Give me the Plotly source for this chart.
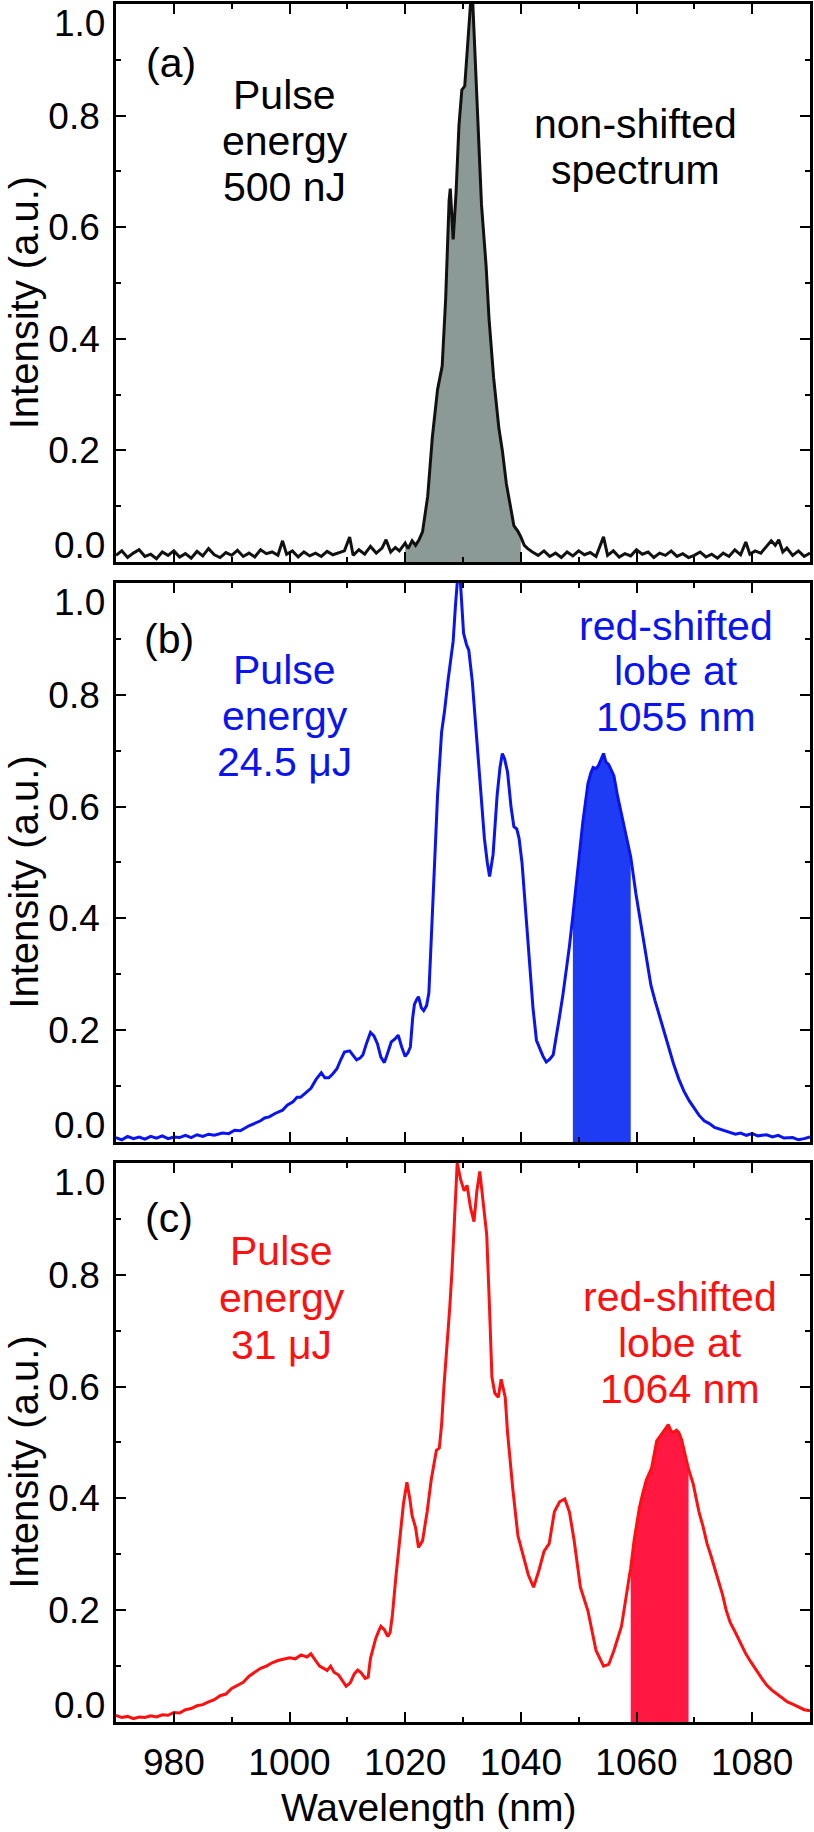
import plotly.graph_objects as go

# ---------------- data ----------------
# Panel (a): non-shifted spectrum, 500 nJ
wl_a = [970, 971, 972, 973, 974, 975, 976, 977, 978, 979, 980, 981, 982, 983, 984, 985, 986, 987, 988, 989,
        990, 991, 992, 993, 994, 995, 996, 997, 998, 998.8, 999.5, 1000.5, 1001.5, 1002.5, 1003.5, 1004.5,
        1005.5, 1006.5, 1007.5, 1008.5, 1009.5, 1010.4, 1011, 1012, 1013, 1014, 1015, 1016, 1016.7, 1017.5,
        1018.3, 1019, 1020.0, 1020.5, 1021.2, 1021.8, 1022.4, 1023.0, 1023.9, 1024.7, 1025.6, 1026.4, 1027.0,
        1027.6, 1027.8, 1028.3, 1028.8, 1029.3, 1029.8, 1030.3, 1030.7, 1031.3, 1031.7, 1032.2, 1032.8, 1033.2,
        1034.0, 1034.5, 1035.3, 1036.2, 1036.8, 1037.5, 1038.2, 1038.8, 1039.5, 1040.0, 1040.6, 1041.2, 1042,
        1043, 1044, 1045, 1046, 1047, 1048, 1049, 1050, 1051, 1052, 1053, 1054.3, 1055, 1056, 1057, 1058, 1059,
        1060, 1061, 1062, 1063, 1064, 1065, 1066, 1067, 1068, 1069, 1070, 1071, 1072, 1073, 1074, 1075, 1076,
        1077, 1078, 1078.9, 1079.6, 1080.5, 1081.5, 1082.5, 1083.3, 1084, 1084.6, 1085.3, 1086, 1087, 1088,
        1089, 1090]
int_a = [0.012, 0.020, 0.008, 0.016, 0.022, 0.010, 0.014, 0.006, 0.018, 0.012, 0.020, 0.009, 0.015, 0.007,
         0.019, 0.011, 0.024, 0.013, 0.008, 0.017, 0.012, 0.021, 0.010, 0.016, 0.009, 0.022, 0.015, 0.018,
         0.012, 0.038, 0.014, 0.020, 0.009, 0.018, 0.011, 0.016, 0.010, 0.019, 0.013, 0.017, 0.020, 0.045,
         0.012, 0.022, 0.014, 0.028, 0.016, 0.025, 0.040, 0.018, 0.026, 0.020, 0.034, 0.024, 0.038, 0.030,
         0.040, 0.054, 0.118, 0.224, 0.309, 0.351, 0.471, 0.648, 0.669, 0.578, 0.662, 0.782, 0.846, 0.853,
         0.917, 1.000, 1.000, 0.880, 0.755, 0.640, 0.530, 0.436, 0.330, 0.240, 0.200, 0.140, 0.100, 0.065,
         0.055, 0.045, 0.030, 0.024, 0.018, 0.012, 0.020, 0.010, 0.016, 0.008, 0.018, 0.011, 0.020, 0.013,
         0.017, 0.010, 0.045, 0.012, 0.020, 0.009, 0.015, 0.011, 0.022, 0.014, 0.018, 0.008, 0.016, 0.012,
         0.020, 0.010, 0.015, 0.008, 0.012, 0.018, 0.009, 0.014, 0.007, 0.016, 0.010, 0.022, 0.013, 0.036,
         0.014, 0.020, 0.016, 0.028, 0.038, 0.030, 0.040, 0.018, 0.025, 0.012, 0.020, 0.010, 0.016]

# Panel (b): 24.5 uJ, red-shifted lobe at 1055 nm
wl_b = [970, 971, 972, 973, 974, 975, 976, 977, 978, 979, 980, 981, 982, 983, 984, 985, 986, 987, 988.4,
        989.5, 990.5, 991.5, 993.0, 994, 995, 995.7, 996.5, 997.5, 998.8, 999.6, 1000.6, 1001.3, 1001.9,
        1002.8, 1003.7, 1004.6, 1005.5, 1006.1, 1006.8, 1007.5, 1008.2, 1008.9, 1009.5, 1010.4, 1011.0,
        1011.6, 1012.2, 1012.7, 1013.3, 1014.0, 1014.6, 1015.2, 1015.8, 1016.4, 1017.0, 1017.6, 1018.2,
        1018.8, 1019.4, 1020.0, 1020.5, 1020.9, 1021.3, 1021.6, 1022.0, 1022.3, 1022.8, 1023.2, 1023.7,
        1024.1, 1024.5, 1025.0, 1025.6, 1026.3, 1026.8, 1027.4, 1027.9, 1028.3, 1028.7, 1029.0, 1029.5,
        1030.1, 1030.6, 1031.0, 1031.6, 1032.2, 1032.8, 1033.3, 1033.7, 1034.2, 1034.6, 1035.2, 1035.9,
        1036.4, 1036.8, 1037.2, 1037.7, 1038.3, 1038.8, 1039.3, 1039.7, 1040.2, 1040.6, 1041.5, 1042.1,
        1042.7, 1043.3, 1043.8, 1044.4, 1045.0, 1045.6, 1046.2, 1046.7, 1047.3, 1047.8, 1048.4, 1049.0,
        1049.8, 1050.7, 1051.6, 1052.1, 1052.5, 1053.0, 1053.4, 1053.9, 1054.3, 1054.7, 1055.2, 1055.7,
        1056.1, 1056.7, 1057.4, 1058.1, 1058.8, 1059.0, 1059.9, 1060.8, 1061.9, 1062.5, 1063.2, 1064.0,
        1064.6, 1065.5, 1066.4, 1067.3, 1068.2, 1069.1, 1070.0, 1070.8, 1071.7, 1072.6, 1073.5, 1074.4,
        1075.3, 1076.2, 1077.1, 1078.0, 1079, 1080, 1081, 1082.5, 1083.5, 1084.5, 1085.5, 1087, 1088,
        1089, 1090]
int_b = [0.008, 0.004, 0.010, 0.006, 0.009, 0.005, 0.010, 0.007, 0.011, 0.006, 0.009, 0.008, 0.012, 0.008,
         0.013, 0.010, 0.014, 0.012, 0.016, 0.015, 0.021, 0.020, 0.029, 0.033, 0.038, 0.043, 0.045, 0.051,
         0.057, 0.066, 0.072, 0.080, 0.080, 0.088, 0.096, 0.112, 0.124, 0.115, 0.115, 0.122, 0.131, 0.148,
         0.161, 0.163, 0.155, 0.147, 0.150, 0.156, 0.176, 0.196, 0.190, 0.176, 0.152, 0.142, 0.160, 0.179,
         0.184, 0.191, 0.170, 0.153, 0.160, 0.170, 0.222, 0.246, 0.255, 0.260, 0.240, 0.235, 0.244, 0.267,
         0.360, 0.472, 0.620, 0.733, 0.770, 0.825, 0.860, 0.896, 0.960, 1.000, 1.010, 0.910, 0.890, 0.880,
         0.825, 0.740, 0.670, 0.600, 0.543, 0.500, 0.475, 0.514, 0.620, 0.670, 0.695, 0.685, 0.662, 0.600,
         0.564, 0.560, 0.543, 0.500, 0.444, 0.316, 0.240, 0.182, 0.165, 0.154, 0.143, 0.148, 0.156, 0.190,
         0.225, 0.265, 0.302, 0.350, 0.405, 0.486, 0.571, 0.641, 0.660, 0.670, 0.668, 0.673, 0.685, 0.695,
         0.680, 0.675, 0.664, 0.655, 0.620, 0.585, 0.550, 0.521, 0.510, 0.444, 0.387, 0.316, 0.280, 0.253,
         0.225, 0.203, 0.170, 0.140, 0.113, 0.091, 0.074, 0.059, 0.048, 0.038, 0.033, 0.026, 0.023, 0.020,
         0.018, 0.014, 0.016, 0.012, 0.015, 0.011, 0.013, 0.009, 0.012, 0.007, 0.008, 0.004, 0.006, 0.009]

# Panel (c): 31 uJ, red-shifted lobe at 1064 nm
wl_c = [970, 971, 972, 973, 974, 975, 976, 977, 978, 979, 980, 981, 982, 983, 984, 985, 986, 987, 988, 989,
        990, 991, 992, 993, 994, 995, 996, 997, 998, 999, 1000, 1001, 1002, 1003, 1003.7, 1004.5, 1005.2,
        1005.9, 1006.5, 1007.1, 1007.7, 1008.5, 1009.2, 1009.8, 1010.5, 1011.2, 1011.8, 1012.4, 1013.1,
        1013.6, 1014.0, 1014.9, 1015.4, 1015.8, 1016.4, 1017.0, 1017.4, 1017.8, 1018.4, 1018.9, 1019.3,
        1019.7, 1020.3, 1020.8, 1021.2, 1021.8, 1022.3, 1022.7, 1023.0, 1023.4, 1023.8, 1024.5, 1025.0,
        1025.4, 1025.9, 1026.3, 1026.7, 1027.2, 1027.7, 1028.1, 1028.5, 1029.0, 1029.6, 1030.2, 1030.7,
        1031.3, 1031.9, 1032.4, 1032.9, 1033.4, 1034.1, 1034.6, 1035.0, 1035.5, 1036.1, 1036.6, 1037.3,
        1037.7, 1038.6, 1039.5, 1040.4, 1041.3, 1042.2, 1043.1, 1044.0, 1044.9, 1045.8, 1046.7, 1047.6,
        1048.4, 1049.2, 1050.3, 1051.6, 1053.0, 1054.3, 1055.2, 1056.1, 1057.4, 1058.8, 1059.0, 1059.6,
        1060.5, 1061.1, 1061.7, 1062.6, 1063.5, 1064.0, 1064.6, 1065.1, 1065.5, 1066.0, 1066.4, 1066.9,
        1067.3, 1067.8, 1068.2, 1068.7, 1069.0, 1069.8, 1070.8, 1071.5, 1072.2, 1072.8, 1073.5, 1074.2,
        1074.9, 1075.5, 1076.2, 1077.1, 1078.0, 1078.9, 1079.8, 1080.7, 1081.6, 1082.5, 1083.4, 1084.3,
        1085.2, 1086.1, 1087.0, 1088, 1089, 1090]
int_c = [0.012, 0.008, 0.010, 0.006, 0.009, 0.008, 0.011, 0.009, 0.013, 0.012, 0.017, 0.016, 0.022, 0.024,
         0.029, 0.031, 0.036, 0.040, 0.047, 0.050, 0.060, 0.066, 0.071, 0.082, 0.089, 0.096, 0.100, 0.106,
         0.110, 0.112, 0.115, 0.113, 0.120, 0.116, 0.122, 0.110, 0.100, 0.096, 0.092, 0.100, 0.089, 0.084,
         0.072, 0.064, 0.070, 0.086, 0.093, 0.088, 0.078, 0.080, 0.114, 0.149, 0.162, 0.171, 0.165, 0.153,
         0.160, 0.192, 0.260, 0.312, 0.360, 0.390, 0.429, 0.400, 0.369, 0.348, 0.312, 0.318, 0.324, 0.350,
         0.376, 0.433, 0.465, 0.486, 0.490, 0.532, 0.600, 0.666, 0.740, 0.808, 0.900, 1.000, 0.970, 0.950,
         0.960, 0.920, 0.895, 0.950, 0.985, 0.940, 0.872, 0.737, 0.617, 0.588, 0.581, 0.613, 0.581, 0.518,
         0.418, 0.333, 0.298, 0.263, 0.241, 0.270, 0.305, 0.319, 0.376, 0.394, 0.399, 0.376, 0.326, 0.241,
         0.199, 0.128, 0.100, 0.103, 0.128, 0.171, 0.263, 0.275, 0.326, 0.383, 0.410, 0.433, 0.454, 0.503,
         0.510, 0.518, 0.525, 0.532, 0.520, 0.518, 0.522, 0.518, 0.505, 0.489, 0.465, 0.452, 0.426, 0.376,
         0.350, 0.319, 0.300, 0.277, 0.250, 0.227, 0.200, 0.178, 0.160, 0.142, 0.122, 0.107, 0.092, 0.079,
         0.066, 0.057, 0.050, 0.043, 0.036, 0.032, 0.027, 0.022, 0.020]

# shaded wavelength windows (nm)
fill_a = (1020.0, 1040.0)
fill_b = (1049.0, 1059.0)
fill_c = (1059.0, 1069.0)

x_ticks = [980, 1000, 1020, 1040, 1060, 1080]
y_ticks = [0.0, 0.2, 0.4, 0.6, 0.8, 1.0]
y_ticktext = ["", "0.2", "0.4", "0.6", "0.8", ""]

# ---------------- layout geometry ----------------
FIG_W, FIG_H = 814, 1832
ML, MR, MT, MB = 116, 2, 1, 110
PW = FIG_W - ML - MR
PH = FIG_H - MT - MB
FONT = "Liberation Sans, Arial, Helvetica, sans-serif"


def pyp(ypx):
    return (FIG_H - MB - ypx) / PH


def pxp(xpx):
    return (xpx - ML) / PW


panels = [  # (top px, bottom px)
    (1, 560),
    (581, 1141),
    (1162, 1722),
]

fig = go.Figure()

specs = [
    (wl_a, int_a, fill_a, "#111111", "#8c9a97", "x", "y"),
    (wl_b, int_b, fill_b, "#0a14f0", "#1f3cf5", "x2", "y2"),
    (wl_c, int_c, fill_c, "#ff1010", "#ff1842", "x3", "y3"),
]
for wl, inten, (f0, f1), lc, fc, xa, ya in specs:
    fx = [w for w in wl if f0 <= w <= f1]
    fy = [v for w, v in zip(wl, inten) if f0 <= w <= f1]
    fig.add_trace(go.Scatter(x=fx, y=fy, mode="lines", fill="tozeroy", fillcolor=fc,
                             line=dict(width=0, color=fc), xaxis=xa, yaxis=ya,
                             showlegend=False, hoverinfo="skip"))
    fig.add_trace(go.Scatter(x=wl, y=inten, mode="lines", line=dict(color=lc, width=3),
                             xaxis=xa, yaxis=ya, showlegend=False))

axis_common = dict(showline=True, linecolor="black", linewidth=2.6, mirror="ticks",
                   ticks="inside", ticklen=10, tickwidth=2.4, tickcolor="black",
                   showgrid=False, zeroline=False,
                   tickfont=dict(family=FONT, size=37, color="black"))

layout = dict(width=FIG_W, height=FIG_H, margin=dict(l=ML, r=MR, t=MT, b=MB),
              plot_bgcolor="white", paper_bgcolor="white", showlegend=False,
              font=dict(family=FONT, color="black"))

for i, (top, bot) in enumerate(panels):
    sfx = "" if i == 0 else str(i + 1)
    ydom = [pyp(bot), pyp(top)]
    layout["xaxis" + sfx] = dict(axis_common, range=[970, 1090], tickvals=x_ticks,
                                  minor=dict(ticks="inside", ticklen=5, tickwidth=2, dtick=10,
                                             tick0=970, tickcolor="black"),
                                  showticklabels=(i == 2), anchor="y" + sfx,
                                  domain=[0, 1], ticklabelstandoff=6)
    if i < 2:
        layout["xaxis" + sfx]["matches"] = "x3"
    layout["yaxis" + sfx] = dict(axis_common, range=[0, 1.0], tickvals=y_ticks, ticktext=y_ticktext,
                                  minor=dict(ticks="inside", ticklen=5, tickwidth=2, dtick=0.1,
                                             tick0=0, tickcolor="black"),
                                  anchor="x" + sfx, domain=ydom, ticklabelstandoff=6)

fig.update_layout(**layout)

ann = []
# end tick labels nudged inside the frame, and y titles
for i, (top, bot) in enumerate(panels):
    ann.append(dict(text="1.0", x=pxp(107), y=pyp(top + 20), xref="paper", yref="paper",
                    xanchor="right", yanchor="middle", showarrow=False,
                    font=dict(family=FONT, size=37, color="black")))
    ann.append(dict(text="0.0", x=pxp(107), y=pyp(bot - 17), xref="paper", yref="paper",
                    xanchor="right", yanchor="middle", showarrow=False,
                    font=dict(family=FONT, size=37, color="black")))
    ann.append(dict(text="Intensity (a.u.)", x=pxp(24), y=pyp((top + bot) / 2 + 20),
                    xref="paper", yref="paper", xanchor="center", yanchor="middle",
                    textangle=-90, showarrow=False,
                    font=dict(family=FONT, size=40, color="black")))

ann.append(dict(text="Wavelength (nm)", x=pxp(430), y=pyp(1808), xref="paper", yref="paper",
                xanchor="center", yanchor="middle", showarrow=False,
                font=dict(family=FONT, size=39, color="black")))


def txt(s, xpx, ypx, color):
    ann.append(dict(text=s, x=pxp(xpx), y=pyp(ypx), xref="paper", yref="paper",
                    xanchor="center", yanchor="middle", showarrow=False,
                    font=dict(family=FONT, size=41, color=color)))


# panel (a)
txt("(a)", 171, 60, "black")
txt("Pulse", 285, 92, "black")
txt("energy", 285, 138, "black")
txt("500 nJ", 285, 184, "black")
txt("non-shifted", 637, 121, "black")
txt("spectrum", 637, 167, "black")
# panel (b)
BLUE = "#0a14f0"
txt("(b)", 169, 637, "black")
txt("Pulse", 285, 668, BLUE)
txt("energy", 285, 714, BLUE)
txt("24.5 μJ", 285, 760, BLUE)
txt("red-shifted", 678, 624, BLUE)
txt("lobe at", 678, 669, BLUE)
txt("1055 nm", 678, 715, BLUE)
# panel (c)
RED = "#ff1010"
txt("(c)", 169, 1217, "black")
txt("Pulse", 282, 1250, RED)
txt("energy", 282, 1297, RED)
txt("31 μJ", 282, 1344, RED)
txt("red-shifted", 682, 1296, RED)
txt("lobe at", 682, 1342, RED)
txt("1064 nm", 682, 1388, RED)

fig.update_layout(annotations=ann)
fig.write_html("out.html")
